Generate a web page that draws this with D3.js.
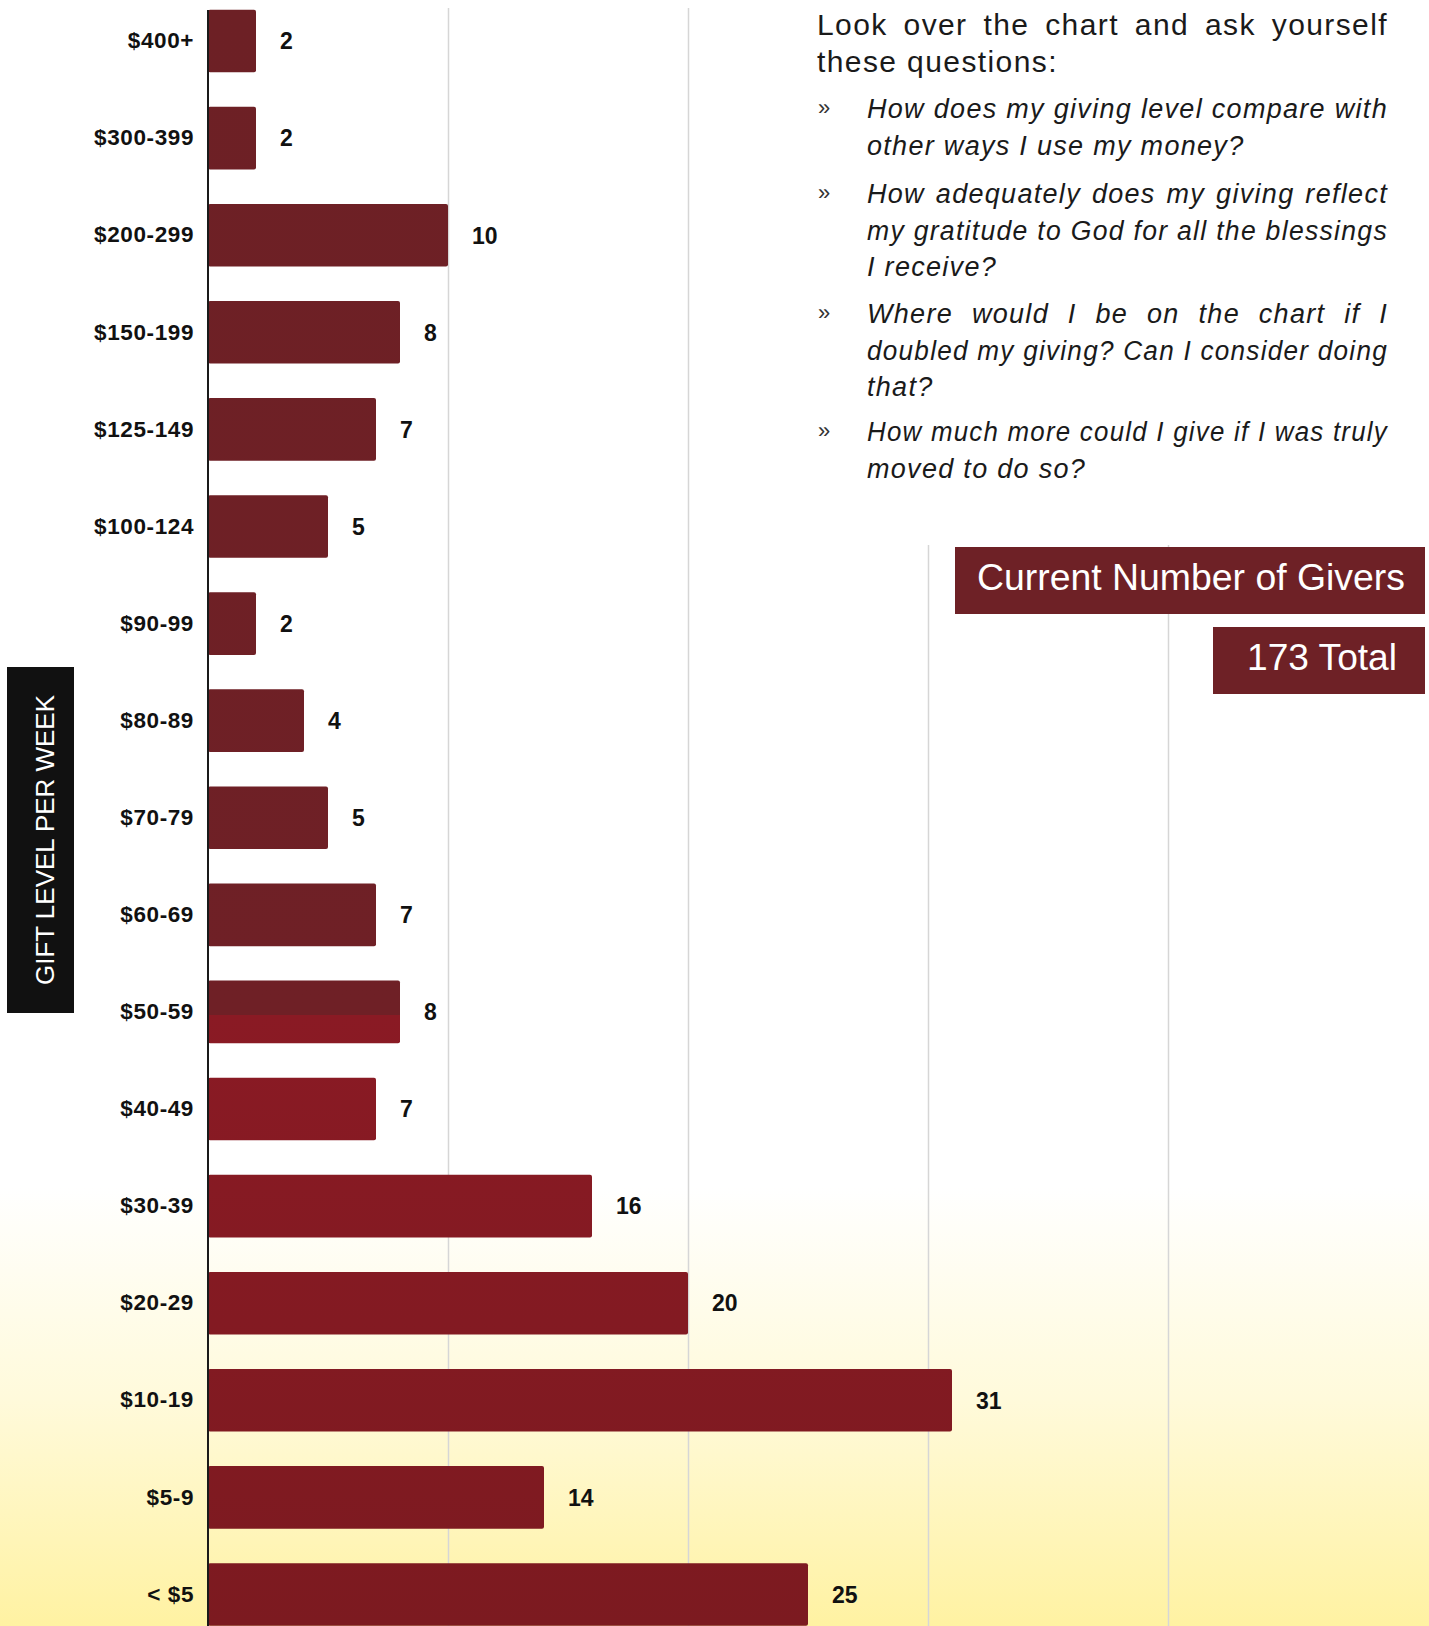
<!DOCTYPE html>
<html>
<head>
<meta charset="utf-8">
<script src="https://cdn.jsdelivr.net/npm/d3@7"></script>
<style>
  html, body { margin: 0; padding: 0; background: #fff; }
  svg { display: block; }
</style>
</head>
<body>
<div id="chart"></div>
<script>
// gift levels, top to bottom
const levels = ['$400+', '$300-399', '$200-299', '$150-199', '$125-149', '$100-124', '$90-99',
  '$80-89', '$70-79', '$60-69', '$50-59', '$40-49', '$30-39', '$20-29', '$10-19', '$5-9', '< $5'];
// number of givers in each level
const givers = [2, 2, 10, 8, 7, 5, 2, 4, 5, 7, 8, 7, 16, 20, 31, 14, 25];
const gridTicks = [10, 20, 30, 40];

const headingLines = ['Look over the chart and ask yourself', 'these questions:'];
// each question: its wrapped lines; all but the last line are justified
const questions = [
  ['How does my giving level compare with', 'other ways I use my money?'],
  ['How adequately does my giving reflect', 'my gratitude to God for all the blessings', 'I receive?'],
  ['Where would I be on the chart if I', 'doubled my giving? Can I consider doing', 'that?'],
  ['How much more could I give if I was truly', 'moved to do so?']
];
const boxTitle = 'Current Number of Givers';
const boxTotal = '173 Total';
const axisTitle = 'GIFT LEVEL PER WEEK';

const W = 1429, H = 1626;
const maroon = '#6e2126';

const svg = d3.select('#chart').append('svg')
  .attr('width', W).attr('height', H);

const defs = svg.append('defs');

// pale yellow wash at the bottom of the page
const bg = defs.append('linearGradient').attr('id', 'bg')
  .attr('x1', 0).attr('y1', 0).attr('x2', 0).attr('y2', 1);
bg.append('stop').attr('offset', '0').attr('stop-color', '#ffffff');
bg.append('stop').attr('offset', '0.73').attr('stop-color', '#ffffff');
bg.append('stop').attr('offset', '0.86').attr('stop-color', '#fffadb');
bg.append('stop').attr('offset', '1').attr('stop-color', '#fff2a2');

// bars print darker in the upper half, redder below
const barFill = defs.append('linearGradient').attr('id', 'barfill')
  .attr('gradientUnits', 'userSpaceOnUse')
  .attr('x1', 0).attr('y1', 0).attr('x2', 0).attr('y2', H);
barFill.append('stop').attr('offset', 0).attr('stop-color', '#6d2025');
barFill.append('stop').attr('offset', 1015 / H).attr('stop-color', '#6f2026');
barFill.append('stop').attr('offset', 1015 / H).attr('stop-color', '#8a1a24');
barFill.append('stop').attr('offset', 1).attr('stop-color', '#7c1a20');

svg.append('rect').attr('width', W).attr('height', H).attr('fill', 'url(#bg)');

// scales
const x = d3.scaleLinear().domain([0, 50]).range([208, 1408]);
const y = d3.scaleBand().domain(levels).range([-7.5, 1643])
  .paddingInner(0.355).paddingOuter(0.1775);

// grid lines
svg.append('g')
  .attr('transform', `translate(0, ${H})`)
  .call(d3.axisBottom(x).tickValues(gridTicks).tickSize(-(H - 8)).tickFormat(''))
  .call(g => g.select('.domain').remove())
  .call(g => g.selectAll('.tick line').attr('stroke', '#d6d6d6').attr('stroke-width', 1.5));

// bars
svg.append('g').selectAll('rect')
  .data(levels)
  .join('rect')
  .attr('x', x(0))
  .attr('y', d => y(d))
  .attr('width', (d, i) => x(givers[i]) - x(0))
  .attr('height', y.bandwidth())
  .attr('rx', 2)
  .attr('fill', 'url(#barfill)');

// value labels
svg.append('g').selectAll('text')
  .data(levels)
  .join('text')
  .attr('x', (d, i) => x(givers[i]) + 24)
  .attr('y', d => y(d) + y.bandwidth() / 2)
  .attr('dy', '0.36em')
  .style('font', 'bold 23px "Liberation Sans", Arial, sans-serif')
  .attr('fill', '#111')
  .text((d, i) => givers[i]);

// category axis
svg.append('g')
  .attr('transform', `translate(${x(0)}, 0)`)
  .call(d3.axisLeft(y).tickSize(0).tickPadding(14))
  .call(g => g.select('.domain').remove())
  .call(g => g.selectAll('.tick text')
    .style('font', 'bold 22.5px "Liberation Sans", Arial, sans-serif')
    .style('letter-spacing', '0.6px')
    .attr('fill', '#111'));

svg.append('line')
  .attr('x1', x(0)).attr('x2', x(0))
  .attr('y1', 10).attr('y2', H)
  .attr('stroke', '#1a1a1a').attr('stroke-width', 2);

// vertical axis title in a black box
svg.append('rect')
  .attr('x', 7).attr('y', 667).attr('width', 67).attr('height', 346)
  .attr('fill', '#111');
svg.append('text')
  .attr('transform', 'translate(45, 840) rotate(-90)')
  .attr('text-anchor', 'middle')
  .attr('dy', '0.36em')
  .attr('textLength', 290).attr('lengthAdjust', 'spacingAndGlyphs')
  .style('font', '25px "Liberation Sans", Arial, sans-serif')
  .attr('fill', '#fff')
  .text(axisTitle);

// text panel on the right covers the grid
svg.append('rect')
  .attr('x', 800).attr('y', 0).attr('width', W - 800).attr('height', 545)
  .attr('fill', '#fff');

const panel = svg.append('g');
const lineH = 36.5;

// stretch the gaps between words so the line fills the width
function justify(sel, width) {
  sel.each(function () {
    const t = d3.select(this);
    const spaces = (t.text().match(/ /g) || []).length;
    const natural = this.getComputedTextLength();
    if (spaces > 0 && natural < width) t.style('word-spacing', ((width - natural) / spaces) + 'px');
    else if (natural > width) t.attr('textLength', width).attr('lengthAdjust', 'spacingAndGlyphs');
  });
}

panel.selectAll('text.head')
  .data(headingLines)
  .join('text')
  .attr('class', 'head')
  .attr('x', 817)
  .attr('y', (d, i) => 35 + i * lineH)
  .style('font', '30px "Liberation Sans", Arial, sans-serif')
  .style('letter-spacing', '1.4px')
  .attr('fill', '#1a1a1a')
  .text(d => d)
  .filter((d, i) => i === 0)
  .call(justify, 571);

const qTop = [118, 203, 323, 441];

questions.forEach((lines, qi) => {
  panel.append('text')
    .attr('x', 818).attr('y', qTop[qi] - 3)
    .style('font', '22px "Liberation Sans", Arial, sans-serif')
    .attr('fill', '#333')
    .text('\u00bb');
  panel.selectAll(null)
    .data(lines)
    .join('text')
    .attr('x', 867)
    .attr('y', (d, i) => qTop[qi] + i * lineH)
    .style('font', 'italic 27px "Liberation Sans", Arial, sans-serif')
    .style('letter-spacing', '1.3px')
    .attr('fill', '#1a1a1a')
    .text(d => d)
    .filter((d, i) => i < lines.length - 1)
    .call(justify, 521);
});

// "current number of givers" boxes
svg.append('rect')
  .attr('x', 955).attr('y', 547).attr('width', 470).attr('height', 67)
  .attr('fill', maroon);
svg.append('text')
  .attr('x', 1191).attr('y', 590)
  .attr('text-anchor', 'middle')
  .attr('textLength', 428).attr('lengthAdjust', 'spacingAndGlyphs')
  .style('font', '36px "Liberation Sans", Arial, sans-serif')
  .attr('fill', '#fff')
  .text(boxTitle);

svg.append('rect')
  .attr('x', 1213).attr('y', 627).attr('width', 212).attr('height', 67)
  .attr('fill', maroon);
svg.append('text')
  .attr('x', 1322).attr('y', 670)
  .attr('text-anchor', 'middle')
  .attr('textLength', 150).attr('lengthAdjust', 'spacingAndGlyphs')
  .style('font', '36px "Liberation Sans", Arial, sans-serif')
  .attr('fill', '#fff')
  .text(boxTotal);
</script>
</body>
</html>
